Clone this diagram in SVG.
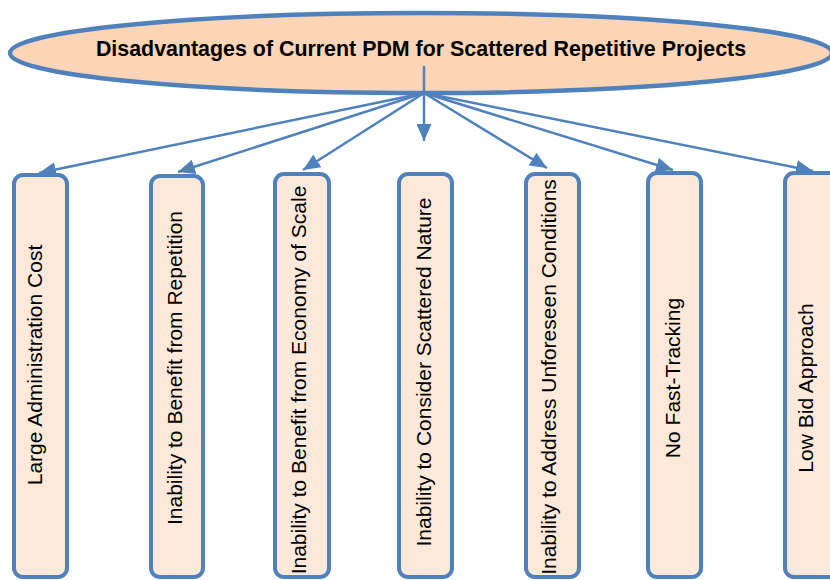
<svg xmlns="http://www.w3.org/2000/svg" width="830" height="580" viewBox="0 0 830 580">
<style>
.box{fill:#FDE9D9;stroke:#4F81BD;stroke-width:4}
.lbl{font-family:"Liberation Sans",Arial,sans-serif;font-size:21px;fill:#000;text-anchor:middle}
.ttl{font-family:"Liberation Sans",Arial,sans-serif;font-size:21.4px;font-weight:bold;fill:#000;text-anchor:middle}
.con{stroke:#4F81BD;stroke-width:2.5;fill:none;marker-end:url(#ah)}
</style>
<defs>
<marker id="ah" markerUnits="userSpaceOnUse" markerWidth="18" markerHeight="15" refX="17" refY="7.5" orient="auto">
<path d="M0,0 L17,7.5 L0,15 z" fill="#4F81BD"/>
</marker>
</defs>
<rect width="830" height="580" fill="#fff"/>
<g id="root">
<ellipse cx="421" cy="53" rx="411" ry="40" fill="#FBD5B5" stroke="#4F81BD" stroke-width="4.5"/>
<text class="ttl" x="421" y="56">Disadvantages of Current PDM for Scattered Repetitive Projects</text>
</g>
<g id="connectors">
<line class="con" x1="424" y1="66" x2="424" y2="141"/>
<line class="con" x1="424" y1="93" x2="39" y2="173"/>
<line class="con" x1="424" y1="93" x2="178" y2="172"/>
<line class="con" x1="424" y1="93" x2="303" y2="170"/>
<line class="con" x1="424" y1="93" x2="547" y2="168"/>
<line class="con" x1="424" y1="93" x2="673" y2="170"/>
<line class="con" x1="424" y1="93" x2="813" y2="171"/>
</g>
<g id="n1">
<rect class="box" x="14" y="175" width="53" height="402" rx="9"/>
<text class="lbl" transform="translate(42,365) rotate(-90)">Large Administration Cost</text>
</g>
<g id="n2">
<rect class="box" x="151" y="176" width="52" height="401" rx="9"/>
<text class="lbl" transform="translate(182,368) rotate(-90)">Inability to Benefit from Repetition</text>
</g>
<g id="n3">
<rect class="box" x="275" y="174" width="54" height="403" rx="9"/>
<text class="lbl" transform="translate(306,380) rotate(-90)">Inability to Benefit from Economy of Scale</text>
</g>
<g id="n4">
<rect class="box" x="399" y="174" width="53" height="403" rx="9"/>
<text class="lbl" transform="translate(431,372) rotate(-90)">Inability to Consider Scattered Nature</text>
</g>
<g id="n5">
<rect class="box" x="526" y="174" width="53" height="403" rx="9"/>
<text class="lbl" transform="translate(556,377) rotate(-90)">Inability to Address Unforeseen Conditions</text>
</g>
<g id="n6">
<rect class="box" x="648" y="173" width="53" height="404" rx="9"/>
<text class="lbl" transform="translate(680,378) rotate(-90)">No Fast-Tracking</text>
</g>
<g id="n7">
<rect class="box" x="785" y="173" width="54" height="404" rx="9"/>
<text class="lbl" transform="translate(813,388) rotate(-90)">Low Bid Approach</text>
</g>
</svg>
